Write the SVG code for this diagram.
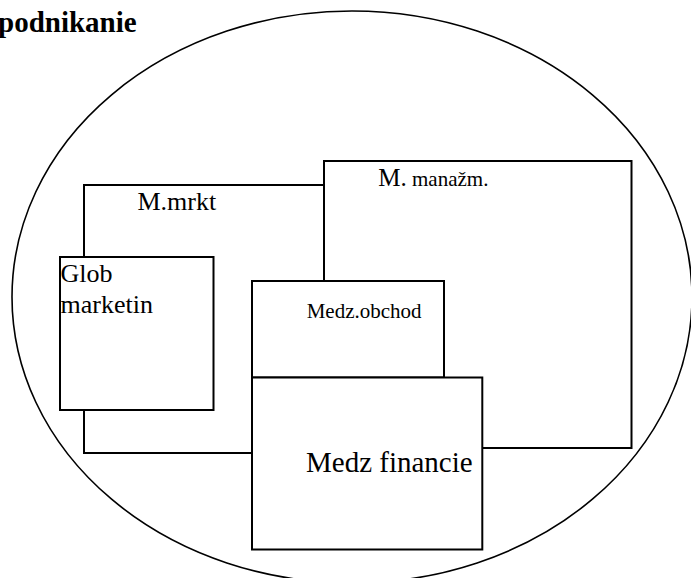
<svg xmlns="http://www.w3.org/2000/svg" width="691" height="578" viewBox="0 0 691 578">
  <style>
    .box { fill: #ffffff; stroke: #000000; stroke-width: 2; }
    .oval { fill: none; stroke: #000000; stroke-width: 1.6; }
    text { font-family: 'Liberation Serif', 'DejaVu Serif', serif; fill: #000000; }
    .title { font-weight: bold; }
  </style>
  <rect width="691" height="578" fill="#ffffff"/>

  <text class="title" x="-2" y="31.5" font-size="29" font-family="Liberation Serif, serif">podnikanie</text>

  <g id="podnikanie-oval">
    <ellipse class="oval" cx="352" cy="297" rx="340" ry="286"/>
  </g>

  <g id="m-mrkt">
    <rect class="box" x="84" y="185" width="260" height="268"/>
    <text x="137.5" y="210" font-size="26" font-family="Liberation Serif, serif">M.mrkt</text>
  </g>

  <g id="m-manazm">
    <rect class="box" x="324" y="161" width="307.5" height="287"/>
    <text x="378.3" y="185.7" font-size="25" font-family="Liberation Serif, serif">M.<tspan font-size="21"> manažm.</tspan></text>
  </g>

  <g id="glob-marketin">
    <rect class="box" x="60" y="257" width="153.5" height="153"/>
    <text x="60.5" y="281.7" font-size="26" font-family="Liberation Serif, serif">Glob</text>
    <text x="60.5" y="312.7" font-size="26" font-family="Liberation Serif, serif">marketin</text>
  </g>

  <g id="medz-obchod">
    <rect class="box" x="252" y="281" width="192" height="96.5"/>
    <text x="306.7" y="317.7" font-size="21" font-family="Liberation Serif, serif">Medz.obchod</text>
  </g>

  <g id="medz-financie">
    <rect class="box" x="252" y="377.5" width="230.3" height="172"/>
    <text x="306" y="472.3" font-size="29" font-family="Liberation Serif, serif">Medz financie</text>
  </g>

  <g id="connectors"/>
</svg>
